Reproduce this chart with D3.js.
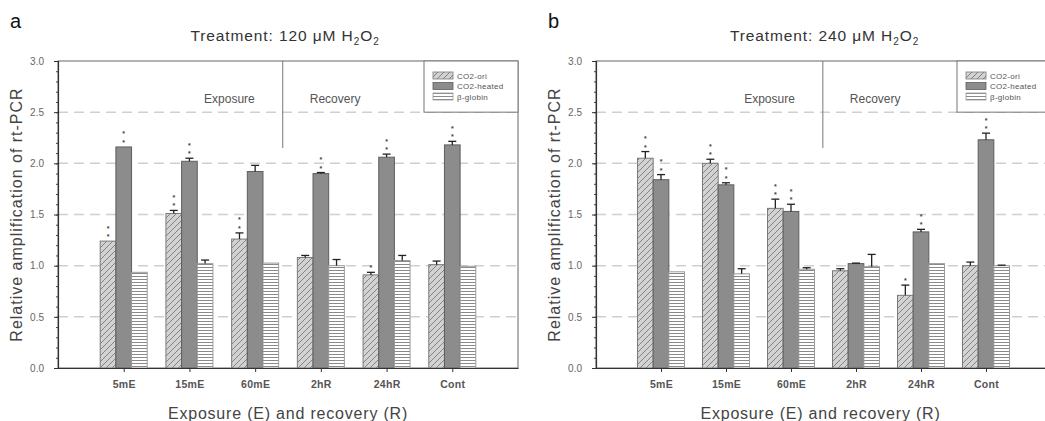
<!DOCTYPE html>
<html>
<head>
<meta charset="utf-8">
<script src="https://cdn.jsdelivr.net/npm/d3@7/dist/d3.min.js"></script>
<style>
  body { margin: 0; background: #fff; }
  text { font-family: "Liberation Sans", Arial, sans-serif; }
</style>
</head>
<body>
<script>
const categories = ["5mE", "15mE", "60mE", "2hR", "24hR", "Cont"];
const seriesNames = ["CO2-ori", "CO2-heated", "β-globin"];
const yTicks = [0, 0.5, 1.0, 1.5, 2.0, 2.5, 3.0];

// panel a: 120 uM
const aOri = [1.24, 1.51, 1.26, 1.08, 0.91, 1.01];
const aOriErr = [0, 0.03, 0.06, 0.02, 0.025, 0.035];
const aHeated = [2.16, 2.02, 1.92, 1.90, 2.06, 2.18];
const aHeatedErr = [0, 0.03, 0.06, 0.01, 0.03, 0.035];
const aGlobin = [0.935, 1.02, 1.025, 1.0, 1.05, 0.994];
const aGlobinErr = [0, 0.035, 0, 0.06, 0.05, 0];
const aOriStars = ["**", "**", "**", "", "*", ""];
const aHeatedStars = ["**", "**", "", "**", "**", "**"];

// panel b: 240 uM
const bOri = [2.05, 2.0, 1.56, 0.95, 0.71, 1.0];
const bOriErr = [0.065, 0.04, 0.09, 0.02, 0.10, 0.035];
const bHeated = [1.84, 1.79, 1.53, 1.02, 1.33, 2.23];
const bHeatedErr = [0.05, 0.02, 0.07, 0.005, 0.025, 0.065];
const bGlobin = [0.94, 0.92, 0.965, 0.99, 1.02, 1.0];
const bGlobinErr = [0, 0.05, 0.015, 0.12, 0, 0.005];
const bOriStars = ["**", "**", "**", "", "*", ""];
const bHeatedStars = ["**", "**", "**", "", "**", "**"];

const svg = d3.select("body").append("svg")
  .attr("width", 1045)
  .attr("height", 421);

const defs = svg.append("defs");

// diagonal hatch for CO2-ori
const hatch = defs.append("pattern")
  .attr("id", "hatch")
  .attr("patternUnits", "userSpaceOnUse")
  .attr("width", 6).attr("height", 6);
hatch.append("rect").attr("width", 6).attr("height", 6).attr("fill", "#d2d2d2");
hatch.append("path")
  .attr("d", "M0,6 L6,0 M-1,1 L1,-1 M5,7 L7,5")
  .attr("stroke", "#7a7a7a").attr("stroke-width", 0.9);

// horizontal stripes for beta-globin
const stripe = defs.append("pattern")
  .attr("id", "stripe")
  .attr("patternUnits", "userSpaceOnUse")
  .attr("width", 4).attr("height", 3);
stripe.append("rect").attr("width", 4).attr("height", 3).attr("fill", "#fff");
stripe.append("line")
  .attr("x1", 0).attr("x2", 4).attr("y1", 0.5).attr("y2", 0.5)
  .attr("stroke", "#8a8a8a").attr("stroke-width", 1);

const fills = ["url(#hatch)", "#8c8c8c", "url(#stripe)"];
const strokes = ["#7a7a7a", "#5e5e5e", "#9a9a9a"];

const y = d3.scaleLinear().domain([0, 3]).range([368, 61]);

function drawPanel(p) {
  const g = svg.append("g");
  const x = d3.scaleLinear().domain([0, 7]).range([p.x0, p.x1]);
  const inner = d3.scaleBand().domain(seriesNames).range([-23.5, 23.5]);

  // panel letter and title
  g.append("text")
    .attr("x", p.x0 - 48).attr("y", 28)
    .attr("font-size", 20).attr("fill", "#111")
    .text(p.letter);

  const title = g.append("text")
    .attr("x", (p.x0 + Math.min(p.x1, 1045)) / 2 + (p.x1 > 1045 ? 4 : -3))
    .attr("y", 41)
    .attr("text-anchor", "middle")
    .attr("font-size", 15.5).attr("fill", "#333")
    .attr("letter-spacing", 0.9);
  title.append("tspan").text(`Treatment: ${p.conc} μM H`);
  title.append("tspan").attr("dy", 4).attr("font-size", 10).text("2");
  title.append("tspan").attr("dy", -4).text("O");
  title.append("tspan").attr("dy", 4).attr("font-size", 10).text("2");

  // dashed grid
  g.append("g").selectAll("line")
    .data(yTicks.filter(d => d > 0 && d < 3))
    .join("line")
    .attr("x1", p.x0).attr("x2", p.x1)
    .attr("y1", d => y(d)).attr("y2", d => y(d))
    .attr("stroke", "#cfcfcf").attr("stroke-width", 1.5)
    .attr("stroke-dasharray", "10,6");

  // frame (top and right)
  g.append("rect")
    .attr("x", p.x0).attr("y", y(3))
    .attr("width", p.x1 - p.x0).attr("height", y(0) - y(3))
    .attr("fill", "none").attr("stroke", "#666").attr("stroke-width", 1);

  // exposure / recovery divider
  const xd = x(p.divider);
  g.append("line")
    .attr("x1", xd).attr("x2", xd)
    .attr("y1", y(3)).attr("y2", y(2.15))
    .attr("stroke", "#777").attr("stroke-width", 1);
  g.append("text")
    .attr("x", xd - 28).attr("y", 103)
    .attr("text-anchor", "end")
    .attr("font-family", "Open Sans, sans-serif")
    .attr("font-size", 12).attr("fill", "#555")
    .text("Exposure");
  g.append("text")
    .attr("x", xd + 27).attr("y", 103)
    .attr("font-family", "Open Sans, sans-serif")
    .attr("font-size", 12).attr("fill", "#555")
    .text("Recovery");

  // bars
  const series = [
    { vals: p.ori, errs: p.oriErr, stars: p.oriStars },
    { vals: p.heated, errs: p.heatedErr, stars: p.heatedStars },
    { vals: p.globin, errs: p.globinErr, stars: null }
  ];
  series.forEach((s, si) => {
    const name = seriesNames[si];
    const rows = categories.map((c, i) => ({
      i, v: s.vals[i], e: s.errs[i], st: s.stars ? s.stars[i] : ""
    }));
    const sg = g.append("g");
    const bx = d => x(d.i + 1) + inner(name);
    const cx = d => bx(d) + inner.bandwidth() / 2;

    sg.selectAll("rect")
      .data(rows)
      .join("rect")
      .attr("x", bx)
      .attr("y", d => y(d.v))
      .attr("width", inner.bandwidth())
      .attr("height", d => y(0) - y(d.v))
      .attr("fill", fills[si])
      .attr("stroke", strokes[si])
      .attr("stroke-width", 1);

    const eb = rows.filter(d => d.e > 0);
    sg.selectAll("line.stem")
      .data(eb)
      .join("line")
      .attr("class", "stem")
      .attr("x1", cx).attr("x2", cx)
      .attr("y1", d => y(d.v)).attr("y2", d => y(d.v + d.e))
      .attr("stroke", "#222").attr("stroke-width", 1.3);
    sg.selectAll("line.cap")
      .data(eb)
      .join("line")
      .attr("class", "cap")
      .attr("x1", d => cx(d) - 4).attr("x2", d => cx(d) + 4)
      .attr("y1", d => y(d.v + d.e)).attr("y2", d => y(d.v + d.e))
      .attr("stroke", "#222").attr("stroke-width", 1.3);

    // significance marks, stacked vertically
    rows.filter(d => d.st).forEach(d => {
      d.st.split("").forEach((ch, k) => {
        sg.append("text")
          .attr("x", cx(d))
          .attr("y", y(d.v + d.e) - 6 - k * 8.5 + 4)
          .attr("text-anchor", "middle")
          .attr("font-size", 7).attr("font-weight", "bold").attr("fill", "#444")
          .text(ch);
      });
    });
  });

  // legend
  const lx = p.x1 - 94;
  const lg = g.append("g");
  lg.append("rect")
    .attr("x", lx).attr("y", y(3))
    .attr("width", 94).attr("height", y(2.5) - y(3))
    .attr("fill", "#fff").attr("stroke", "#777").attr("stroke-width", 1);
  seriesNames.forEach((name, i) => {
    const ry = 72 + i * 10.5;
    lg.append("rect")
      .attr("x", lx + 9).attr("y", ry)
      .attr("width", 20).attr("height", 7)
      .attr("fill", fills[i]).attr("stroke", strokes[i]).attr("stroke-width", 0.8);
    lg.append("text")
      .attr("x", lx + 33).attr("y", ry + 6.5)
      .attr("font-size", 8).attr("fill", "#555")
      .attr("letter-spacing", 0.3)
      .text(name);
  });

  // y axis with minor ticks
  g.append("g")
    .attr("transform", `translate(${p.x0},0)`)
    .call(d3.axisLeft(y).tickValues(d3.range(0, 3.001, 0.1)).tickSize(2).tickFormat(""))
    .call(a => a.select(".domain").remove())
    .call(a => a.selectAll("line").attr("stroke", "#444"));
  g.append("g")
    .attr("transform", `translate(${p.x0},0)`)
    .call(d3.axisLeft(y).tickValues(yTicks).tickSize(4).tickPadding(10)
      .tickFormat(d3.format(".1f")))
    .call(a => a.select(".domain").attr("stroke", "#333").attr("stroke-width", 1.2))
    .call(a => a.selectAll("line").attr("stroke", "#333"))
    .call(a => a.selectAll("text")
      .attr("font-family", "Liberation Sans, Arial, sans-serif")
      .attr("font-size", 10).attr("fill", "#666"));

  // x axis
  g.append("g")
    .attr("transform", `translate(0,${y(0)})`)
    .call(d3.axisBottom(x).tickValues(d3.range(1, 7)).tickSize(4).tickPadding(9)
      .tickFormat(i => categories[i - 1]).tickSizeOuter(0))
    .call(a => a.select(".domain").attr("stroke", "#333").attr("stroke-width", 1.2))
    .call(a => a.selectAll("line").attr("stroke", "#333"))
    .call(a => a.selectAll("text")
      .attr("font-family", "Liberation Sans, Arial, sans-serif")
      .attr("font-size", 10.5).attr("font-weight", "bold").attr("fill", "#555")
      .attr("letter-spacing", 0.3));

  // axis titles
  g.append("text")
    .attr("transform", `translate(${p.x0 - 36},${(y(0) + y(3)) / 2}) rotate(-90)`)
    .attr("text-anchor", "middle")
    .attr("font-size", 16).attr("fill", "#444")
    .attr("letter-spacing", 1)
    .text("Relative amplification of rt-PCR");
  g.append("text")
    .attr("x", (p.x0 + p.x1) / 2 - (p.x1 > 1045 ? 3 : 0)).attr("y", 419)
    .attr("text-anchor", "middle")
    .attr("font-size", 16).attr("fill", "#444")
    .attr("letter-spacing", 0.8)
    .text("Exposure (E) and recovery (R)");
}

drawPanel({
  letter: "a", conc: 120, x0: 58, x1: 518, divider: 3.42,
  ori: aOri, oriErr: aOriErr, heated: aHeated, heatedErr: aHeatedErr,
  globin: aGlobin, globinErr: aGlobinErr,
  oriStars: aOriStars, heatedStars: aHeatedStars
});

drawPanel({
  letter: "b", conc: 240, x0: 596, x1: 1051, divider: 3.49,
  ori: bOri, oriErr: bOriErr, heated: bHeated, heatedErr: bHeatedErr,
  globin: bGlobin, globinErr: bGlobinErr,
  oriStars: bOriStars, heatedStars: bHeatedStars
});
</script>
</body>
</html>
